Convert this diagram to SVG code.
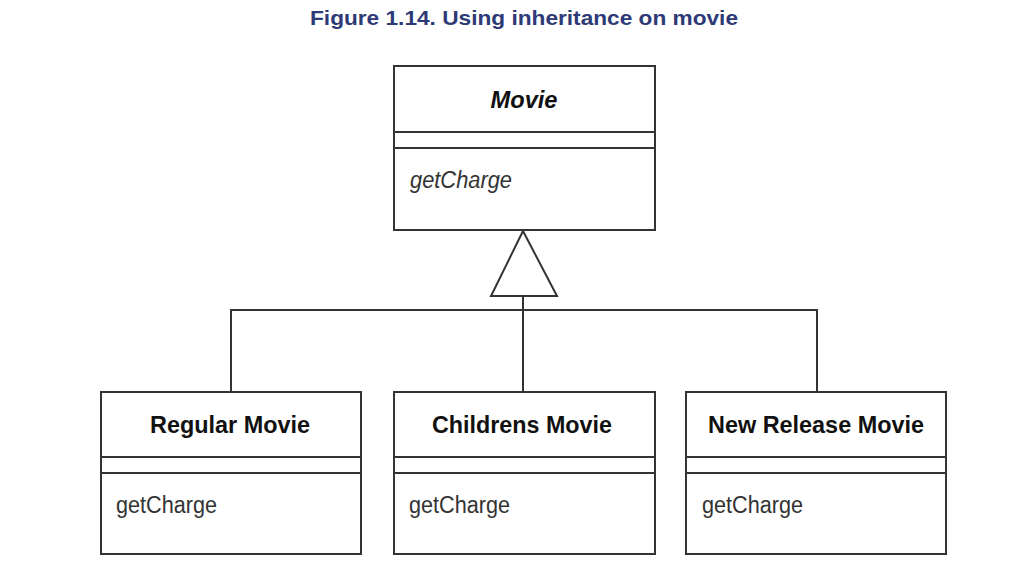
<svg xmlns="http://www.w3.org/2000/svg" width="1034" height="572" viewBox="0 0 1034 572">
<style>
.box{fill:#fff;stroke:#333;stroke-width:2}
.sep{stroke:#333;stroke-width:2}
.name{font-family:"Liberation Sans",Arial,sans-serif;font-weight:bold;font-size:24px;fill:#111;text-anchor:middle}
.op{font-family:"Liberation Sans",Arial,sans-serif;font-size:23px;fill:#333}
.conn{fill:none;stroke:#333;stroke-width:2}
.title{font-family:"Liberation Sans",Arial,sans-serif;font-weight:bold;font-size:21px;fill:#2e3a76;text-anchor:middle}
</style>
<rect width="1034" height="572" fill="#fff"/>
<text class="title" x="524" y="25" textLength="428" lengthAdjust="spacingAndGlyphs">Figure 1.14. Using inheritance on movie</text>
<g id="connectors">
<polygon class="conn" points="523,231 491,296 557,296" fill="#fff"/>
<path class="conn" d="M523,296 V392 M231,392 V310 H817 V392"/>
</g>
<g id="movie">
<rect class="box" x="394" y="66" width="261" height="164"/>
<line class="sep" x1="394" y1="132" x2="655" y2="132"/>
<line class="sep" x1="394" y1="148" x2="655" y2="148"/>
<text class="name" x="524" y="108" font-style="italic" textLength="67" lengthAdjust="spacingAndGlyphs">Movie</text>
<text class="op" x="410" y="188" font-style="italic" textLength="102" lengthAdjust="spacingAndGlyphs">getCharge</text>
</g>
<g id="regular">
<rect class="box" x="101" y="392" width="260" height="162"/>
<line class="sep" x1="101" y1="457" x2="361" y2="457"/>
<line class="sep" x1="101" y1="473" x2="361" y2="473"/>
<text class="name" x="230" y="433" textLength="160" lengthAdjust="spacingAndGlyphs">Regular Movie</text>
<text class="op" x="116" y="513" textLength="101" lengthAdjust="spacingAndGlyphs">getCharge</text>
</g>
<g id="childrens">
<rect class="box" x="394" y="392" width="261" height="162"/>
<line class="sep" x1="394" y1="457" x2="655" y2="457"/>
<line class="sep" x1="394" y1="473" x2="655" y2="473"/>
<text class="name" x="522" y="433" textLength="180" lengthAdjust="spacingAndGlyphs">Childrens Movie</text>
<text class="op" x="409" y="513" textLength="101" lengthAdjust="spacingAndGlyphs">getCharge</text>
</g>
<g id="newrelease">
<rect class="box" x="686" y="392" width="260" height="162"/>
<line class="sep" x1="686" y1="457" x2="946" y2="457"/>
<line class="sep" x1="686" y1="473" x2="946" y2="473"/>
<text class="name" x="816" y="433" textLength="216" lengthAdjust="spacingAndGlyphs">New Release Movie</text>
<text class="op" x="702" y="513" textLength="101" lengthAdjust="spacingAndGlyphs">getCharge</text>
</g>
</svg>
